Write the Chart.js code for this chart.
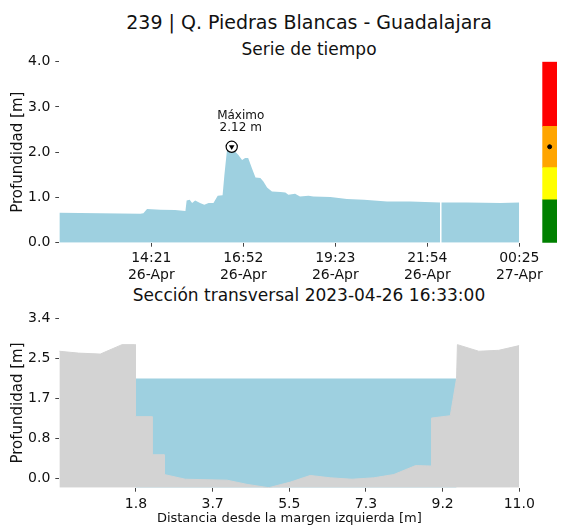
<!DOCTYPE html>
<html>
<head>
<meta charset="utf-8">
<script src="https://cdn.jsdelivr.net/npm/chart.js@4.4.1/dist/chart.umd.min.js"></script>
<style>
  body{margin:0;background:#fff;width:562px;height:527px;overflow:hidden;position:relative;font-family:"DejaVu Sans",sans-serif;}
  canvas{position:absolute;left:0;}
  .ttl{position:absolute;left:0;width:618px;text-align:center;color:#111;white-space:nowrap;line-height:1.2;}
</style>
</head>
<body>
<div class="ttl" style="top:11px;font-size:19px">239 | Q. Piedras Blancas - Guadalajara</div>
<div class="ttl" style="top:39px;font-size:17px">Serie de tiempo</div>
<div class="ttl" style="top:285px;font-size:17px">Sección transversal 2023-04-26 16:33:00</div>
<canvas id="serie" width="562" height="290" style="top:0"></canvas>
<canvas id="alerta" width="562" height="290" style="top:0"></canvas>
<canvas id="seccion" width="562" height="257" style="top:270px"></canvas>
<script>
// serie de tiempo (26-Apr -> 27-Apr)
const sampleTimes = ["11:50","12:57","14:03","14:08","14:14","14:36","15:00","15:17","15:19","15:24",
  "15:28","15:33","15:41","15:48","15:55","16:03","16:10","16:18","16:21","16:25",
  "16:28","16:33","16:38","16:44","16:50","16:55","17:00","17:06","17:12","17:20",
  "17:25","17:31","17:39","17:53","18:01","18:06","18:17","18:25","18:39","18:47",
  "19:15","19:42","20:10","20:48","21:26","22:15","22:16","22:17","22:59","23:54","00:25"];
const depths = [0.66,0.65,0.64,0.65,0.745,0.73,0.72,0.70,0.93,0.95,
  0.88,0.935,0.88,0.84,0.88,0.88,1.04,1.05,1.50,2.02,
  2.06,2.12,2.02,1.94,1.83,1.87,1.87,1.65,1.44,1.43,
  1.35,1.22,1.13,1.12,1.11,1.06,1.08,1.02,1.04,1.02,
  1.01,0.965,0.95,0.91,0.91,0.89,null,0.89,0.89,0.88,0.89];
const tickTimes = ["14:21","16:52","19:23","21:54","00:25"];
const tickDates = ["26-Apr","26-Apr","26-Apr","26-Apr","27-Apr"];
const depthTicks = [0,1,2,3,4];
const maxTime = "16:33";
const maxDepth = 2.12;

// niveles de alerta
const alertLevels = [0,0.95,1.66,2.57,4.0];
const alertColors = ["#008000","#ffff00","#ffa500","#ff0000"];

// seccion transversal
const distances = [0,0.46,0.98,1.50,1.82,1.82,2.22,2.22,2.51,2.51,3.01,4.01,4.49,5.01,
  5.53,6.0,6.48,7.0,7.52,8.0,8.52,8.9,8.9,9.35,9.50,9.52,10.03,10.51,11.0];
const bedLevels = [2.70,2.66,2.64,2.84,2.84,1.31,1.31,0.50,0.50,0.08,-0.02,-0.04,-0.13,-0.20,
  -0.08,0.06,0.01,-0.02,0.01,0.08,0.27,0.26,1.28,1.33,2.12,2.84,2.70,2.72,2.82];
const waterEdges = [1.82,9.50];
const waterLevel = 2.12;
const distTicks = [1.833,3.667,5.5,7.333,9.167,11.0];
const distTickLabels = ["1.8","3.7","5.5","7.3","9.2","11.0"];
const sectionTicks = [0,0.85,1.7,2.55,3.4];
const sectionTickLabels = ["0.0","0.8","1.7","2.5","3.4"];

const WATER = "#9ed0e0", BED = "#d3d3d3", TXT = "#111", TICK = "#444";
const FONT = "'DejaVu Sans'";

function toMinutes(list){
  let day = 0, prev = -1;
  return list.map(s=>{
    const [h,m] = s.split(":").map(Number);
    let v = h*60 + m + day;
    if (v < prev){ day += 1440; v += 1440; }
    prev = v;
    return v;
  });
}
const sampleMin = toMinutes(sampleTimes);
const tickMin = toMinutes(tickTimes);
const maxMin = toMinutes([maxTime])[0];

const tickGrid = {display:true, drawOnChartArea:false, drawTicks:true, tickLength:4, color:TICK};

const maxLabel = {
  id:"maxLabel",
  afterDatasetsDraw(c){
    const ctx = c.ctx;
    const x = c.scales.x.getPixelForValue(maxMin) + 9;
    const y = c.scales.y.getPixelForValue(maxDepth);
    ctx.save();
    ctx.font = "12px " + FONT;
    ctx.fillStyle = TXT;
    ctx.textAlign = "center";
    ctx.textBaseline = "middle";
    ctx.fillText("Máximo", x, y - 30.5);
    ctx.fillText(maxDepth.toFixed(2) + " m", x, y - 18.5);
    ctx.restore();
  }
};

new Chart(document.getElementById("serie"), {
  type:"line",
  data:{
    datasets:[
      {data:[{x:maxMin,y:maxDepth}], showLine:false, pointStyle:"triangle", rotation:180,
       pointRadius:3.2, pointBackgroundColor:"#000", pointBorderColor:"#000", pointBorderWidth:0, order:0},
      {data:[{x:maxMin,y:maxDepth}], showLine:false, pointStyle:"circle",
       pointRadius:5.6, pointBackgroundColor:"#fff", pointBorderColor:"#000", pointBorderWidth:1.2, order:1},
      {data:sampleMin.map((x,i)=>({x, y:depths[i]})), fill:"origin", backgroundColor:WATER,
       borderColor:"rgba(0,0,0,0)", borderWidth:0, pointRadius:0, spanGaps:false, order:2}
    ]
  },
  options:{
    responsive:false, animation:false,
    layout:{padding:{left:0.3, top:61.7, right:42.7, bottom:0}},
    plugins:{legend:{display:false}, tooltip:{enabled:false}},
    scales:{
      x:{type:"linear", min:sampleMin[0], max:sampleMin[sampleMin.length-1],
        border:{display:false}, grid:tickGrid,
        afterBuildTicks:s=>{ s.ticks = tickMin.map(v=>({value:v})); },
        afterFit:s=>{ s.height = 47.3; },
        ticks:{autoSkip:false, maxRotation:0, padding:3, color:TXT, font:{family:FONT, size:14},
          callback:(v,i)=>[tickTimes[i], tickDates[i]]}},
      y:{min:0, max:4, border:{display:false}, grid:tickGrid,
        afterBuildTicks:s=>{ s.ticks = depthTicks.map(v=>({value:v})); },
        afterFit:s=>{ s.width = 59; },
        title:{display:true, text:"Profundidad [m]", color:TXT, font:{family:FONT, size:15}, padding:{top:8.5}},
        ticks:{padding:5, color:TXT, font:{family:FONT, size:14}, callback:v=>v.toFixed(1)}}
    }
  },
  plugins:[maxLabel]
});

new Chart(document.getElementById("alerta"), {
  type:"bar",
  data:{
    labels:[""],
    datasets:[
      {type:"line", data:[maxDepth], showLine:false, pointRadius:2, pointBackgroundColor:"#000",
       pointBorderColor:"#000", order:0},
      ...alertColors.map((c,i)=>({data:[[alertLevels[i], alertLevels[i+1]]], backgroundColor:c,
        borderWidth:0, grouped:false, barPercentage:1, categoryPercentage:1, order:1}))
    ]
  },
  options:{
    responsive:false, animation:false,
    layout:{padding:{left:542.3, top:61.7, right:0.3, bottom:47.3}},
    plugins:{legend:{display:false}, tooltip:{enabled:false}},
    scales:{x:{display:false}, y:{display:false, min:0, max:4}}
  }
});

new Chart(document.getElementById("seccion"), {
  type:"line",
  data:{
    datasets:[
      {data:distances.map((x,i)=>({x, y:bedLevels[i]})), fill:"start", backgroundColor:BED,
       borderColor:BED, borderWidth:1, pointRadius:0, order:0},
      {data:waterEdges.map(x=>({x, y:waterLevel})), fill:"start", backgroundColor:WATER,
       borderColor:"rgba(0,0,0,0)", borderWidth:0, pointRadius:0, order:1}
    ]
  },
  options:{
    responsive:false, animation:false,
    layout:{padding:{left:0.3, top:48.3, right:42.7, bottom:0}},
    plugins:{legend:{display:false}, tooltip:{enabled:false}},
    scales:{
      x:{type:"linear", min:0, max:11, border:{display:false}, grid:tickGrid,
        afterBuildTicks:s=>{ s.ticks = distTicks.map(v=>({value:v})); },
        afterFit:s=>{ s.height = 39.3; },
        title:{display:true, text:"Distancia desde la margen izquierda [m]", color:TXT,
          font:{family:FONT, size:13}, padding:{bottom:1}},
        ticks:{autoSkip:false, maxRotation:0, padding:4, color:TXT, font:{family:FONT, size:14},
          callback:(v,i)=>distTickLabels[i]}},
      y:{min:-0.2, max:3.4, border:{display:false}, grid:tickGrid,
        afterBuildTicks:s=>{ s.ticks = sectionTicks.map(v=>({value:v})); },
        afterFit:s=>{ s.width = 59; },
        title:{display:true, text:"Profundidad [m]", color:TXT, font:{family:FONT, size:15}, padding:{top:8.5}},
        ticks:{padding:5, color:TXT, font:{family:FONT, size:14}, callback:(v,i)=>sectionTickLabels[i]}}
    }
  }
});
</script>
</body>
</html>
